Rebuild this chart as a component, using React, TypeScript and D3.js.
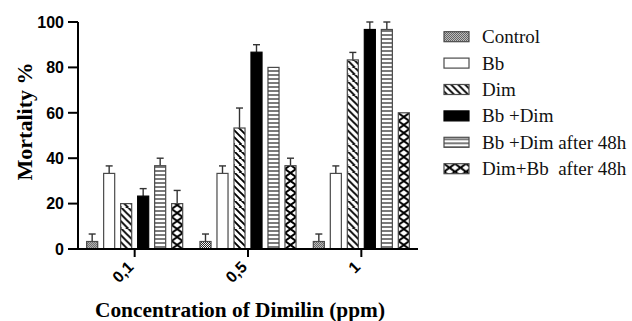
import React from 'react';
import * as d3 from 'd3';

const concentrations = ['0,1', '0,5', '1'];
const seriesNames = [
  'Control',
  'Bb',
  'Dim',
  'Bb +Dim',
  'Bb +Dim after 48h',
  'Dim+Bb  after 48h',
];
// mortality % per series, one value per concentration
const controlValues = [3.3, 3.3, 3.3];
const bbValues = [33.3, 33.3, 33.3];
const dimValues = [20, 53.3, 83.3];
const bbDimValues = [23.3, 86.7, 96.7];
const bbDim48Values = [36.7, 80, 96.7];
const dimBb48Values = [20, 36.7, 60];
// standard errors (upper bars only)
const controlErr = [3.3, 3.3, 3.3];
const bbErr = [3.3, 3.3, 3.3];
const dimErr = [0, 8.8, 3.3];
const bbDimErr = [3.3, 3.3, 3.3];
const bbDim48Err = [3.3, 0, 3.3];
const dimBb48Err = [5.8, 3.3, 0];
const yTicks = [0, 20, 40, 60, 80, 100];

const allValues = [controlValues, bbValues, dimValues, bbDimValues, bbDim48Values, dimBb48Values];
const allErrors = [controlErr, bbErr, dimErr, bbDimErr, bbDim48Err, dimBb48Err];
const kinds = ['dots', 'white', 'diag', 'black', 'hlines', 'cross'];

const W = 632;
const H = 321;
const SERIF = 'Liberation Serif';
const SANS = 'Liberation Sans';
const BORDER = '#4a4a4a';

const left = 78;
const right = 418;
const top = 22;
const bottom = 249;

const x = d3.scaleBand().domain(concentrations).range([left, right]);
const inner = d3
  .scaleBand()
  .domain(seriesNames)
  .range([-51, 51])
  .paddingInner(0.35)
  .paddingOuter(0.175);
const y = d3.scaleLinear().domain([0, 100]).range([bottom, top]);

// pattern anchored at (px, py) so the hatching lines up with each box
function Pattern({id, kind, px, py}: {id: string; kind: string; px: number; py: number}) {
  if (kind === 'dots') {
    return (
      <pattern id={id} patternUnits="userSpaceOnUse" x={px} y={py} width={2} height={2}>
        <rect width={2} height={2} fill="#fff" />
        <rect width={1} height={1} fill="#222" />
        <rect x={1} y={1} width={1} height={1} fill="#222" />
      </pattern>
    );
  }
  if (kind === 'diag') {
    return (
      <pattern id={id} patternUnits="userSpaceOnUse" x={px} y={py} width={7} height={7}>
        <rect width={7} height={7} fill="#fff" />
        <path d="M-1,-1 L8,8 M-4.5,2.5 L2.5,9.5 M2.5,-4.5 L9.5,2.5" stroke="#000" strokeWidth={1.9} />
      </pattern>
    );
  }
  if (kind === 'hlines') {
    return (
      <pattern id={id} patternUnits="userSpaceOnUse" x={px} y={py} width={4} height={4}>
        <rect width={4} height={4} fill="#fff" />
        <line x1={0} x2={4} y1={2} y2={2} stroke="#333" strokeWidth={1.3} />
      </pattern>
    );
  }
  if (kind === 'cross') {
    return (
      <pattern id={id} patternUnits="userSpaceOnUse" x={px} y={py} width={11} height={8}>
        <rect width={11} height={8} fill="#fff" />
        <path d="M0,0 L11,8 M11,0 L0,8" stroke="#000" strokeWidth={2} />
      </pattern>
    );
  }
  return null;
}

const fillFor = (id: string, kind: string) => {
  if (kind === 'white') return '#fff';
  if (kind === 'black') return '#000';
  return `url(#${id})`;
};

export default function App() {
  const bw = inner.bandwidth();
  const bars = seriesNames.flatMap((name, si) =>
    concentrations.map((c, ci) => {
      const bx = x(c)! + x.bandwidth() / 2 + inner(name)!;
      return {id: `p-${si}-${ci}`, kind: kinds[si], bx, v: allValues[si][ci], e: allErrors[si][ci]};
    })
  );

  return (
    <svg width={W} height={H} style={{position: 'absolute', left: 0, top: 0, background: '#fff'}}>
      <defs>
        {bars.map((b) => (
          <Pattern key={b.id} id={b.id} kind={b.kind} px={b.bx} py={bottom} />
        ))}
        {seriesNames.map((n, si) => (
          <Pattern key={n} id={`lg-${si}`} kind={kinds[si]} px={444} py={36.7 + si * 26.4 - 5} />
        ))}
      </defs>

      {bars.map((b) => {
        const cx = b.bx + bw / 2;
        return (
          <g key={b.id}>
            {b.e > 0 && (
              <g stroke="#333" strokeWidth={1.4}>
                <line x1={cx} x2={cx} y1={y(b.v)} y2={y(b.v + b.e)} />
                <line x1={cx - 3.5} x2={cx + 3.5} y1={y(b.v + b.e)} y2={y(b.v + b.e)} />
              </g>
            )}
            <rect
              x={b.bx}
              y={y(b.v)}
              width={bw}
              height={bottom - y(b.v)}
              fill={fillFor(b.id, b.kind)}
              stroke={b.kind === 'black' ? '#000' : BORDER}
              strokeWidth={1.2}
            />
          </g>
        );
      })}

      {/* y axis */}
      <g fontFamily={SANS} fontWeight="bold" fontSize={16}>
        <line x1={left} x2={left} y1={top} y2={bottom} stroke="#000" strokeWidth={2} />
        {yTicks.map((t) => (
          <g key={t} transform={`translate(${left},${y(t)})`}>
            <line x1={-10} x2={0} stroke="#000" strokeWidth={2} />
            <text x={-14} dy="0.36em" textAnchor="end" fill="#000">
              {t}
            </text>
          </g>
        ))}
      </g>

      {/* x axis */}
      <g fontFamily={SANS} fontWeight="bold" fontSize={16}>
        <line x1={left - 1} x2={right} y1={bottom} y2={bottom} stroke="#000" strokeWidth={2} />
        {concentrations.map((c) => {
          const cx = x(c)! + x.bandwidth() / 2;
          return (
            <g key={c} transform={`translate(${cx},${bottom})`}>
              <line y1={0} y2={8} stroke="#000" strokeWidth={2} />
              <text transform="translate(0,19) rotate(-45)" textAnchor="end" fill="#000">
                {c}
              </text>
            </g>
          );
        })}
      </g>

      {/* axis titles */}
      <text
        transform={`translate(32,${(top + bottom) / 2 - 14}) rotate(-90)`}
        textAnchor="middle"
        textLength={118}
        lengthAdjust="spacingAndGlyphs"
        fontFamily={SERIF}
        fontWeight="bold"
        fontSize={21}
      >
        Mortality %
      </text>
      <text
        x={240}
        y={317}
        textAnchor="middle"
        textLength={290}
        lengthAdjust="spacingAndGlyphs"
        fontFamily={SERIF}
        fontWeight="bold"
        fontSize={21}
      >
        Concentration of Dimilin (ppm)
      </text>

      {/* legend */}
      {seriesNames.map((name, si) => {
        const kind = kinds[si];
        const cy = 36.7 + si * 26.4;
        return (
          <g key={name}>
            <rect
              x={444}
              y={cy - 5}
              width={25}
              height={10}
              fill={fillFor(`lg-${si}`, kind)}
              stroke={kind === 'black' ? '#000' : BORDER}
              strokeWidth={1.2}
            />
            <text x={482} y={cy + 6.5} fontFamily={SERIF} fontSize={19} fill="#111" style={{whiteSpace: 'pre'}}>
              {name}
            </text>
          </g>
        );
      })}
    </svg>
  );
}
